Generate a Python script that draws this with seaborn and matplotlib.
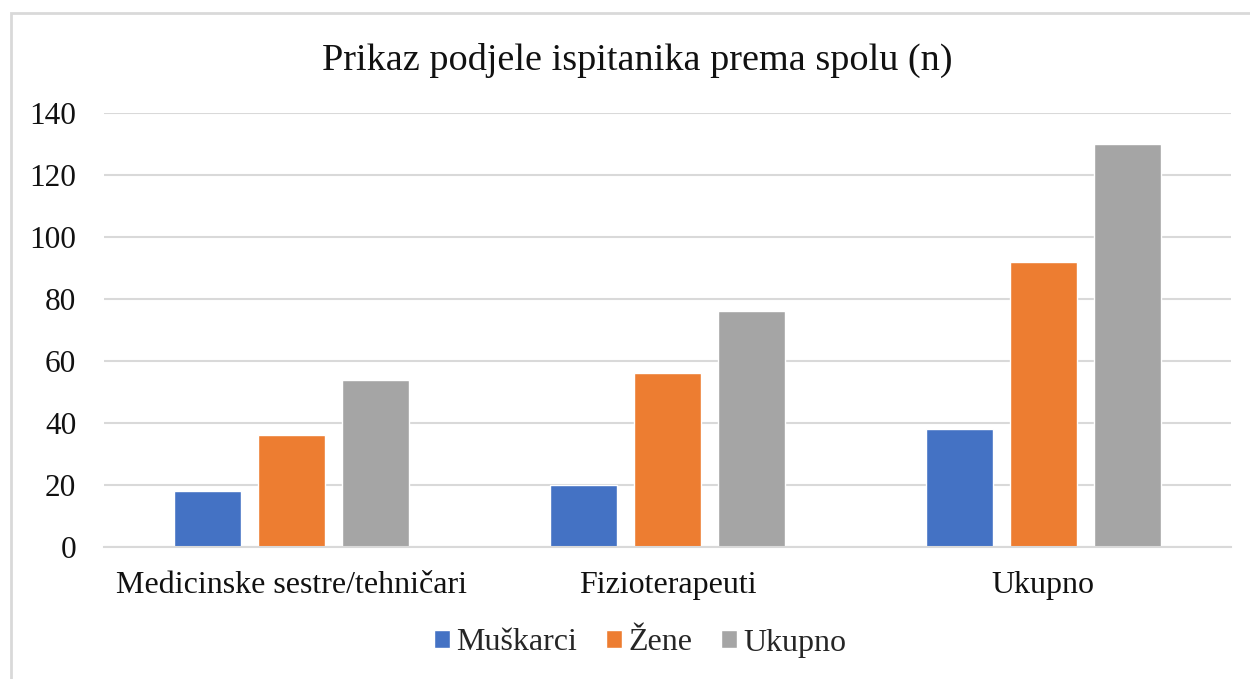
import matplotlib
matplotlib.use('Agg')
import matplotlib.pyplot as plt
import seaborn as sns
import pandas as pd
from matplotlib.patches import Rectangle

# data
categories = ['Medicinske sestre/tehničari', 'Fizioterapeuti', 'Ukupno']
series = ['Muškarci', 'Žene', 'Ukupno']
muskarci = [18, 20, 38]
zene = [36, 56, 92]
ukupno = [54, 76, 130]
colors = ['#4472C4', '#ED7D31', '#A5A5A5']

df = pd.DataFrame({
    'Kategorija': categories * 3,
    'Spol': [series[0]] * 3 + [series[1]] * 3 + [series[2]] * 3,
    'n': muskarci + zene + ukupno,
})

sns.set_style('white')
plt.rcParams['font.family'] = ['Liberation Serif', 'DejaVu Serif']

fig = plt.figure(figsize=(12.5, 6.79), dpi=100)
ax = fig.add_axes([104 / 1250, 1 - 547 / 679, (1231 - 104) / 1250, (547 - 113) / 679])

sns.barplot(data=df, x='Kategorija', y='n', hue='Spol', order=categories,
            hue_order=series, palette=colors, width=0.67, gap=0.2,
            saturation=1, ax=ax, legend=True)

ax.set_ylim(0, 140)
ax.set_yticks(range(0, 141, 20))
ax.set_xlabel('')
ax.set_ylabel('')
ax.yaxis.grid(True, color='#D9D9D9', linewidth=1.5)
ax.set_axisbelow(True)
for s in ['top', 'right', 'left']:
    ax.spines[s].set_visible(False)
ax.spines['bottom'].set_color('#D9D9D9')
ax.spines['bottom'].set_linewidth(1.5)
ax.tick_params(axis='y', length=0, pad=20, labelsize=22.5, labelcolor='#111111')
ax.tick_params(axis='x', length=0, pad=17, labelsize=23, labelcolor='#111111')

fig.text(0.5095, 1 - 60 / 679, 'Prikaz podjele ispitanika prema spolu (n)',
         ha='center', va='center', fontsize=27.5, color='#111111')

handles, labels = ax.get_legend_handles_labels()
ax.legend_.remove()
fig.legend(handles, labels, loc='center', bbox_to_anchor=(0.512, 1 - 643 / 679),
           ncol=3, frameon=False, fontsize=23, handlelength=0.5, handleheight=0.5,
           handletextpad=0.2, columnspacing=0.9)

# outer chart border (left and top edges visible)
fig.patches.append(Rectangle((11 / 1250, -0.05), 1.1, 1 - 13 / 679 + 0.05,
                             transform=fig.transFigure, fill=False,
                             edgecolor='#D9D9D9', linewidth=2))

fig.savefig('out.png', dpi=100)
